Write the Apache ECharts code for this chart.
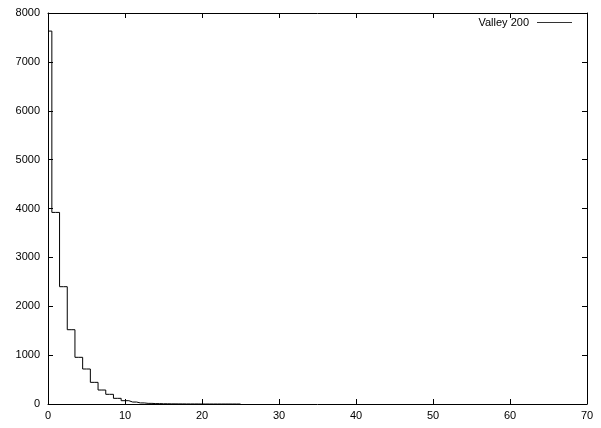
<!DOCTYPE html>
<html>
<head>
<meta charset="utf-8">
<script src="https://cdn.jsdelivr.net/npm/echarts@6/dist/echarts.min.js"></script>
<style>html,body{margin:0;padding:0;background:#fff;}#c{width:601px;height:428px;}</style>
</head>
<body>
<div id="c"></div>
<script>
var seriesName = 'Valley 200';
var xValues = [0,1,2,3,4,5,6,7,8,9,10,11,12,13,14,15,16,17,18,19,20,21,22,23,24,25];
var counts  = [7630,3920,2400,1520,955,716,443,286,198,116,68,40,22,13,8,5,3,2,1,1,0,0,0,0,0,0];
var xTicks = [0,10,20,30,40,50,60,70];
var yTicks = [0,1000,2000,3000,4000,5000,6000,7000,8000];

var data = xValues.map(function(x,i){return [x, counts[i]];});
var font = {fontFamily:'Liberation Sans, Arial, sans-serif', fontSize:11, color:'#000'};
var plain = function(v){ return String(v); };
var chart = echarts.init(document.getElementById('c'), null, {renderer:'canvas'});
var axisCommon = {
  axisLine:{show:true, onZero:false, lineStyle:{color:'#000', width:1}},
  axisTick:{show:true, inside:true, length:5, lineStyle:{color:'#000', width:1}},
  splitLine:{show:false}
};
chart.setOption({
  animation:false,
  backgroundColor:'#fff',
  grid:{left:48, right:14, top:13, bottom:24, containLabel:false, show:false},
  legend:{
    show:true, right:29, top:17, orient:'horizontal', align:'right',
    icon:'rect', itemWidth:35, itemHeight:1, itemGap:0, padding:0,
    itemStyle:{color:'#333'},
    textStyle:{fontFamily:font.fontFamily, fontSize:11, color:'#000', padding:[0,3,0,0]},
    data:[seriesName]
  },
  xAxis:[
    Object.assign({type:'value', min:xTicks[0], max:xTicks[xTicks.length-1], interval:10, position:'bottom',
      axisLabel:Object.assign({margin:6, formatter:plain}, font)}, axisCommon),
    Object.assign({type:'value', min:xTicks[0], max:xTicks[xTicks.length-1], interval:10, position:'top',
      axisLabel:{show:false}}, axisCommon)
  ],
  yAxis:[
    Object.assign({type:'value', min:yTicks[0], max:yTicks[yTicks.length-1], interval:1000, position:'left',
      axisLabel:Object.assign({margin:8, formatter:plain}, font)}, axisCommon),
    Object.assign({type:'value', min:yTicks[0], max:yTicks[yTicks.length-1], interval:1000, position:'right',
      axisLabel:{show:false}}, axisCommon)
  ],
  series:[{
    name:seriesName, type:'line', step:'middle', data:data, symbol:'none',
    xAxisIndex:0, yAxisIndex:0,
    lineStyle:{color:'#000', width:1}, itemStyle:{color:'#000'}
  }]
});
</script>
</body>
</html>
